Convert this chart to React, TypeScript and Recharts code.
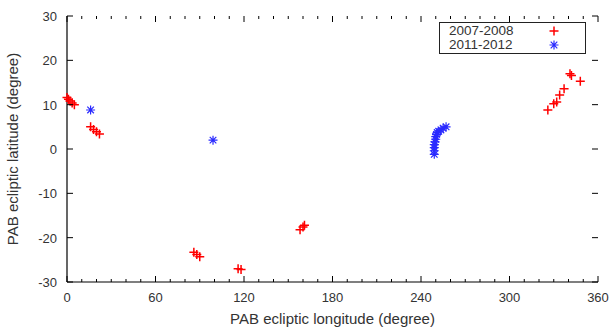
import React from "react";
import { ScatterChart, Scatter, XAxis, YAxis } from "recharts";

// 2007-2008 positions (ecliptic longitude / latitude, degrees)
const lon0708 = [0, 1, 2, 3.5, 5, 16, 18, 20, 22, 86, 88, 90, 116, 118, 158, 160, 161, 326, 330, 332, 334, 337, 341, 342, 348];
const lat0708 = [11.6, 11.2, 10.8, 10.4, 10, 5, 4.4, 3.9, 3.4, -23.3, -23.8, -24.3, -27, -27.2, -18.2, -17.6, -17.2, 8.8, 10.2, 10.6, 12.2, 13.6, 17, 16.6, 15.3];

// 2011-2012 positions
const lon1112 = [16, 99, 249, 249, 249, 249, 249.5, 250, 250, 250.5, 251, 252, 253.5, 255, 257];
const lat1112 = [8.8, 2, -1.2, -0.4, 0.3, 1, 1.6, 2.2, 2.8, 3.3, 3.7, 4, 4.3, 4.7, 5];

const xTicks = Array.from({ length: 37 }, (_, i) => i * 10);
const yTicks = [-30, -20, -10, 0, 10, 20, 30];

const data0708 = lon0708.map((x, i) => ({ x, y: lat0708[i] }));
const data1112 = lon1112.map((x, i) => ({ x, y: lat1112[i] }));

const W = 611;
const H = 331;
const LEFT = 67;
const RIGHT = 598;
const TOP = 16;
const BOTTOM = 282;
const FONT = "'Liberation Sans', Arial, sans-serif";
const RED = "#ff0000";
const BLUE = "#2a2aff";

const Plus = ({ cx, cy }: any) => (
  <path d={`M${cx - 4.5},${cy}h9M${cx},${cy - 4.5}v9`} stroke={RED} strokeWidth={1.5} fill="none" />
);

const Star = ({ cx, cy }: any) => (
  <path
    d={`M${cx - 4.5},${cy}h9M${cx},${cy - 4.5}v9M${cx - 3.3},${cy - 3.3}l6.6,6.6M${cx - 3.3},${cy + 3.3}l6.6,-6.6`}
    stroke={BLUE}
    strokeWidth={1.2}
    fill="none"
  />
);

const XTick = ({ x, payload }: any) => {
  const major = payload.value % 60 === 0;
  const len = major ? 6 : 3;
  return (
    <g>
      <line x1={x} x2={x} y1={BOTTOM} y2={BOTTOM - len} stroke="#000" />
      <line x1={x} x2={x} y1={TOP} y2={TOP + len} stroke="#000" />
      {major && (
        <text x={x} y={BOTTOM + 20} textAnchor="middle" fontSize={13} fill="#333" fontFamily={FONT}>
          {payload.value}
        </text>
      )}
    </g>
  );
};

const YTick = ({ y, payload }: any) => (
  <g>
    <line x1={LEFT} x2={LEFT + 6} y1={y} y2={y} stroke="#000" />
    <line x1={RIGHT - 6} x2={RIGHT} y1={y} y2={y} stroke="#000" />
    <text x={LEFT - 10} y={y + 5} textAnchor="end" fontSize={13} fill="#333" fontFamily={FONT}>
      {payload.value}
    </text>
  </g>
);

const legendItems = [
  { name: "2007-2008", Shape: Plus },
  { name: "2011-2012", Shape: Star },
];

export default function App() {
  return (
    <div style={{ position: "absolute", left: 0, top: 0, width: W, height: H, background: "#fff" }}>
      <ScatterChart width={W} height={H} margin={{ top: TOP, right: W - RIGHT, bottom: 0, left: 0 }}>
        <XAxis
          type="number"
          dataKey="x"
          domain={[0, 360]}
          ticks={xTicks}
          interval={0}
          height={H - BOTTOM}
          axisLine={{ stroke: "#000", strokeWidth: 1.2 }}
          tickLine={false}
          tick={<XTick />}
          label={{
            value: "PAB ecliptic longitude (degree)",
            position: "insideBottom",
            offset: 7,
            fontSize: 15,
            fill: "#333",
            fontFamily: FONT,
          }}
        />
        <XAxis xAxisId="top" type="number" orientation="top" domain={[0, 360]} height={0} tick={false} tickLine={false} axisLine={{ stroke: "#000", strokeWidth: 1.2 }} />
        <YAxis
          type="number"
          dataKey="y"
          domain={[-30, 30]}
          ticks={yTicks}
          interval={0}
          width={LEFT}
          axisLine={{ stroke: "#000", strokeWidth: 1.2 }}
          tickLine={false}
          tick={<YTick />}
          label={{
            value: "PAB ecliptic latitude (degree)",
            angle: -90,
            position: "insideLeft",
            offset: 13,
            fontSize: 15,
            fill: "#333",
            fontFamily: FONT,
            style: { textAnchor: "middle" },
          }}
        />
        <YAxis yAxisId="right" type="number" orientation="right" domain={[-30, 30]} width={0} tick={false} tickLine={false} axisLine={{ stroke: "#000", strokeWidth: 1.2 }} />
        <Scatter name="2007-2008" data={data0708} shape={<Plus />} isAnimationActive={false} />
        <Scatter name="2011-2012" data={data1112} shape={<Star />} isAnimationActive={false} />
      </ScatterChart>
      <div
        style={{
          position: "absolute",
          left: 439,
          top: 22,
          width: 145,
          height: 30,
          border: "1px solid #222",
          background: "#fff",
          fontFamily: FONT,
          fontSize: 13.5,
          color: "#333",
          lineHeight: "14px",
        }}
      >
        {legendItems.map((it, i) => (
          <div key={it.name} style={{ position: "absolute", left: 9, top: 1 + i * 14, height: 14, width: 130 }}>
            <span>{it.name}</span>
            <svg width={12} height={12} style={{ position: "absolute", left: 99, top: 1 }}>
              <it.Shape cx={6} cy={6} />
            </svg>
          </div>
        ))}
      </div>
    </div>
  );
}
